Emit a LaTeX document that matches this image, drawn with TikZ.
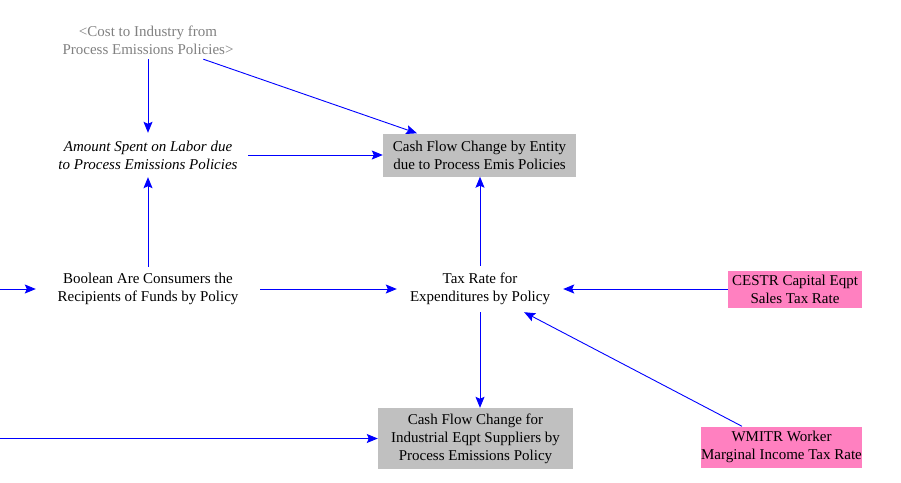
\documentclass[tikz,border=0pt]{standalone}
\usepackage{fontspec}
\setmainfont{Liberation Serif}
\usetikzlibrary{arrows.meta}
\definecolor{boxgray}{HTML}{C0C0C0}
\definecolor{boxpink}{HTML}{FF80C0}
\definecolor{shadowtext}{HTML}{808080}
\begin{document}
\begin{tikzpicture}[x=1pt,y=-1pt,
  lbl/.style={align=center,font=\fontsize{15}{18}\selectfont,inner sep=0pt},
  graybox/.style={lbl,fill=boxgray},
  pinkbox/.style={lbl,fill=boxpink},
  conn/.style={draw=blue,line width=0.9pt,-{Stealth[length=11pt,width=9pt,inset=2pt]}}
]
\useasboundingbox (0,0) rectangle (901,482);

\node[lbl,text=shadowtext,minimum height=38pt] (cost) at (148,40) {<Cost to Industry from\\Process Emissions Policies>};
\node[lbl,font=\fontsize{15}{18}\selectfont\itshape,minimum width=200pt,minimum height=44pt] (amount) at (148,155) {Amount Spent on Labor due\\to Process Emissions Policies};
\node[graybox,minimum width=193pt,minimum height=43pt] (cashE) at (479.5,155) {Cash Flow Change by Entity\\due to Process Emis Policies};
\node[lbl,minimum width=224pt,minimum height=44pt] (bool) at (148,289) {Boolean Are Consumers the\\Recipients of Funds by Policy};
\node[lbl,minimum width=166pt,minimum height=46pt] (tax) at (480,289) {Tax Rate for\\Expenditures by Policy};
\node[pinkbox,minimum width=134pt,minimum height=37pt] (cestr) at (795,289) {CESTR Capital Eqpt\\Sales Tax Rate};
\node[graybox,minimum width=195pt,minimum height=61pt] (cashI) at (475.5,438.5) {Cash Flow Change for\\Industrial Eqpt Suppliers by\\Process Emissions Policy};
\node[pinkbox,minimum width=161pt,minimum height=41pt] (wmitr) at (781.5,447) {WMITR Worker\\Marginal Income Tax Rate};

\coordinate (inB) at (0,289);
\coordinate (inI) at (0,438.5);

\draw[conn] (cost) -- (amount);
\draw[conn] (cost) -- (cashE);
\draw[conn] (amount) -- (cashE);
\draw[conn] (bool) -- (amount);
\draw[conn] (inB) -- (bool);
\draw[conn] (bool) -- (tax);
\draw[conn] (tax) -- (cashE.south -| tax);
\draw[conn] (cestr) -- (tax);
\draw[conn] (tax) -- (cashI.north -| tax);
\draw[conn] (wmitr) -- (tax);
\draw[conn] (inI) -- (cashI);
\end{tikzpicture}
\end{document}
